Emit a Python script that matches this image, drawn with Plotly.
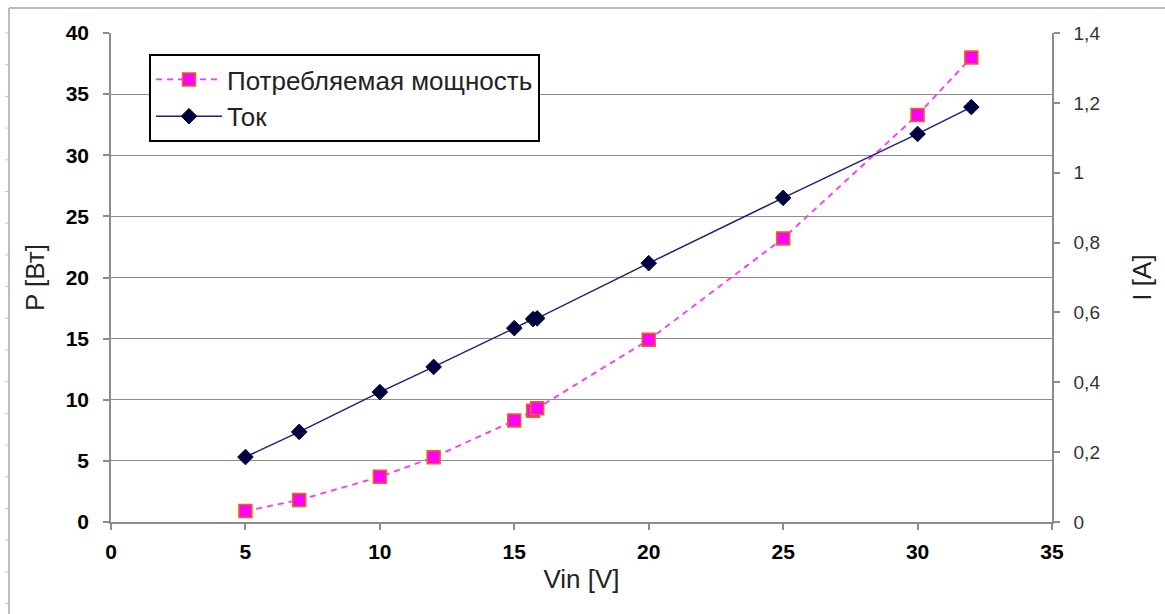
import plotly.graph_objects as go

# Input voltage, V
vin = [5, 7, 10, 12, 15, 15.7, 15.85, 20, 25, 30, 32]
# Consumed power, W
power = [0.9, 1.8, 3.7, 5.3, 8.3, 9.1, 9.3, 14.9, 23.2, 33.3, 38.0]
# Current, A
current = [0.186, 0.258, 0.372, 0.444, 0.555, 0.581, 0.583, 0.741, 0.928, 1.111, 1.188]

power_name = "Потребляемая мощность"
current_name = "Ток"

W, H = 1165, 614
ML, MR, MT, MB = 111, 113, 33, 92
PW, PH = W - ML - MR, H - MT - MB


def px(x):
    """Pixel column -> paper x."""
    return (x - ML) / PW


def py(y):
    """Pixel row -> paper y."""
    return (H - MB - y) / PH


fig = go.Figure()

fig.add_trace(go.Scatter(
    x=vin, y=power, name=power_name, mode="lines+markers",
    line=dict(color="#FF33FF", width=1.8, dash="6px,5px"),
    marker=dict(symbol="square", size=13, color="#FF00FF",
                line=dict(color="#E46C0A", width=1.5)),
    yaxis="y",
))
fig.add_trace(go.Scatter(
    x=vin, y=current, name=current_name, mode="lines+markers",
    line=dict(color="#1F1F7A", width=1.5),
    marker=dict(symbol="diamond", size=12, color="#00003F",
                line=dict(color="#00003F", width=1)),
    yaxis="y2",
))

grid = "#8C8C8C"
bold_ticks = dict(family="Liberation Sans, Arial", size=21, color="black", weight="bold")
plain_ticks = dict(family="Liberation Sans, Arial", size=19, color="#333333")
title_font = dict(family="Liberation Sans, Arial", size=26, color="#222222")

fig.update_layout(
    width=W, height=H,
    margin=dict(l=ML, r=MR, t=MT, b=MB),
    paper_bgcolor="white", plot_bgcolor="white",
    separators=", ",
    font=dict(family="Liberation Sans, Arial", color="black"),
    showlegend=True,
    legend=dict(
        x=px(149), y=py(54), xanchor="left", yanchor="top",
        bgcolor="white", bordercolor="black", borderwidth=2,
        font=dict(family="Liberation Sans, Arial", size=26, color="#222222"),
        itemwidth=66, tracegroupgap=0,
    ),
    xaxis=dict(
        range=[0, 35], dtick=5, tick0=0,
        showgrid=False, zeroline=False,
        showline=True, linecolor=grid, linewidth=1.5,
        ticks="outside", ticklen=6, tickcolor=grid, tickwidth=1.5,
        ticklabelstandoff=4,
        tickfont=bold_ticks,
        title=dict(text="Vin [V]", font=title_font, standoff=8),
    ),
    yaxis=dict(
        range=[0, 40], dtick=5, tick0=0,
        showgrid=True, gridcolor=grid, gridwidth=1.2,
        zeroline=False,
        showline=True, linecolor=grid, linewidth=1.5,
        ticks="outside", ticklen=6, tickcolor=grid, tickwidth=1.5,
        ticklabelstandoff=10,
        tickfont=bold_ticks,
        title=dict(text="P [Вт]", font=title_font, standoff=14),
    ),
    yaxis2=dict(
        range=[0, 1.4], dtick=0.2, tick0=0,
        overlaying="y", side="right",
        showgrid=False, zeroline=False,
        showline=True, linecolor=grid, linewidth=1.5,
        ticks="outside", ticklen=6, tickcolor=grid, tickwidth=1.5,
        ticklabelstandoff=10,
        tickfont=plain_ticks,
        title=dict(text="I [A]", font=title_font, standoff=33),
    ),
)

# Outer chart-area frame (left and top edges)
frame = "#A6A6A6"
fig.add_shape(type="line", xref="paper", yref="paper",
              x0=px(9), x1=px(9), y0=py(8), y1=py(H + 5),
              line=dict(color=frame, width=1.5))
fig.add_shape(type="line", xref="paper", yref="paper",
              x0=px(9), x1=px(W + 5), y0=py(8), y1=py(8),
              line=dict(color=frame, width=1.5))

# Faint sheet row marks beside the frame
row = 33.0
while row < H:
    fig.add_shape(type="line", xref="paper", yref="paper",
                  x0=px(5), x1=px(8), y0=py(row), y1=py(row),
                  line=dict(color="#C8C8C8", width=1))
    row += 31.7

fig.write_html("out.html")
